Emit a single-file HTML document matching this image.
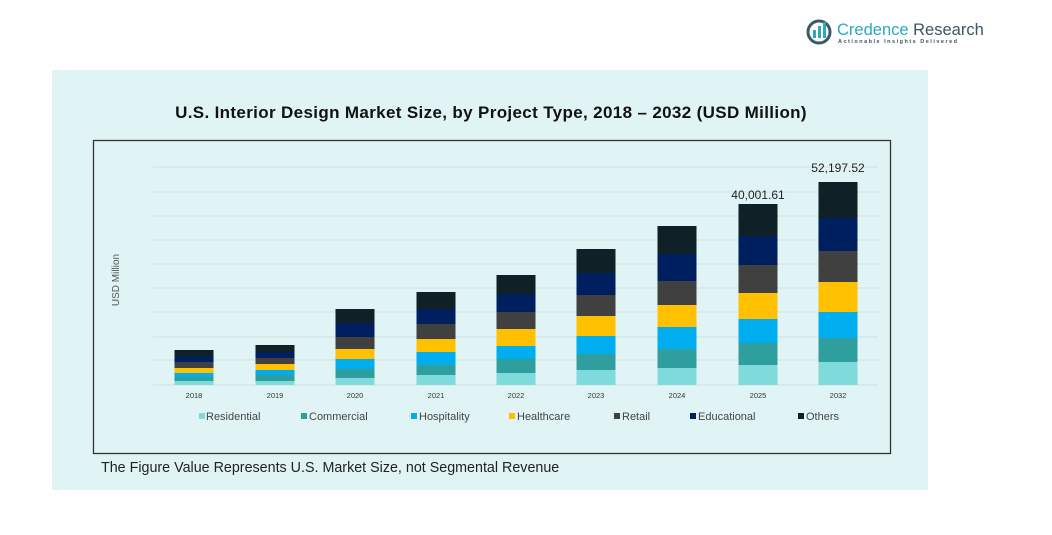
<!DOCTYPE html>
<html><head><meta charset="utf-8"><style>
body{margin:0;width:1052px;height:530px;background:#fff;overflow:hidden;font-family:"Liberation Sans",sans-serif}
</style></head><body>
<svg width="1052" height="530" xmlns="http://www.w3.org/2000/svg" font-family="Liberation Sans, sans-serif">
<rect x="52" y="70" width="876" height="420" fill="#e1f4f5"/>
<!-- logo -->
<circle cx="819" cy="32" r="11" fill="none" stroke="#3a5a66" stroke-width="3"/>
<rect x="813" y="30" width="3" height="8" fill="#2aa8c4"/><rect x="818" y="26" width="3" height="12" fill="#2aa8c4"/><rect x="823" y="22" width="3" height="16" fill="#2aa8c4"/>
<text x="837" y="35" font-size="16.5" fill="#2aa8c4">Credence <tspan fill="#3d5560">Research</tspan></text>
<text x="838" y="43" font-size="5.5" fill="#3d5560" letter-spacing="1.5" font-weight="bold">Actionable Insights Delivered</text>
<text x="491" y="118" font-size="17" font-weight="bold" text-anchor="middle" fill="#111" letter-spacing="0.35">U.S. Interior Design Market Size, by Project Type, 2018 – 2032 (USD Million)</text>
<rect x="93.5" y="140.5" width="797" height="313" fill="none" stroke="#333" stroke-width="1.3"/>
<g stroke="#cfe0e2" stroke-width="1">
<line x1="153" x2="878" y1="167" y2="167"/><line x1="153" x2="878" y1="192" y2="192"/><line x1="153" x2="878" y1="216" y2="216"/><line x1="153" x2="878" y1="240" y2="240"/><line x1="153" x2="878" y1="264" y2="264"/><line x1="153" x2="878" y1="288" y2="288"/><line x1="153" x2="878" y1="312" y2="312"/><line x1="153" x2="878" y1="337" y2="337"/><line x1="153" x2="878" y1="360" y2="360"/><line x1="153" x2="878" y1="385" y2="385"/>
</g>
<text transform="translate(119,280) rotate(-90)" font-size="10" fill="#555" text-anchor="middle">USD Million</text>
<g id="bars"></g>
<g font-size="7.5" fill="#333" text-anchor="middle">
<text x="194" y="398">2018</text><text x="275" y="398">2019</text><text x="355" y="398">2020</text><text x="436" y="398">2021</text><text x="516" y="398">2022</text><text x="596" y="398">2023</text><text x="677" y="398">2024</text><text x="758" y="398">2025</text><text x="838" y="398">2032</text>
</g>
<text x="758" y="199" font-size="12" fill="#222" text-anchor="middle">40,001.61</text>
<text x="838" y="172" font-size="12" fill="#222" text-anchor="middle">52,197.52</text>
<g font-size="11" fill="#444">
<rect x="199" y="413" width="6" height="6" fill="#7fdbdb"/><text x="206" y="420">Residential</text>
<rect x="301" y="413" width="6" height="6" fill="#2e9e9e"/><text x="309" y="420">Commercial</text>
<rect x="411" y="413" width="6" height="6" fill="#00aeef"/><text x="419" y="420">Hospitality</text>
<rect x="509" y="413" width="6" height="6" fill="#ffc000"/><text x="517" y="420">Healthcare</text>
<rect x="614" y="413" width="6" height="6" fill="#404040"/><text x="622" y="420">Retail</text>
<rect x="690" y="413" width="6" height="6" fill="#001f5f"/><text x="698" y="420">Educational</text>
<rect x="798" y="413" width="6" height="6" fill="#0f2027"/><text x="806" y="420">Others</text>
</g>
<text x="101" y="472" font-size="14.3" fill="#222">The Figure Value Represents U.S. Market Size, not Segmental Revenue</text>
</svg>
<script>
var cols=["#7fdbdb","#2e9e9e","#00aeef","#ffc000","#404040","#001f5f","#0f2027"];
var data=[[194,381,377,373,368,362,356,350],[275,381,375,370,364,358,352,345],[355,378,369,359,349,337,323,309],[436,375,365,352,339,324,309,292],[516,373,359,346,329,312,294,275],[596,370,354,336,316,295,273,249],[677,368,349,327,305,281,254,226],[758,365,343,319,293,265,236,204],[838,362,338,312,282,251,218,182]];
var g=document.getElementById("bars"),s="";
data.forEach(function(d){var prev=385;for(var i=0;i<7;i++){var t=d[i+1];s+='<rect x="'+(d[0]-19.5)+'" y="'+t+'" width="39" height="'+(prev-t)+'" fill="'+cols[i]+'"/>';prev=t;}});
g.innerHTML=s;
</script>
</body></html>
